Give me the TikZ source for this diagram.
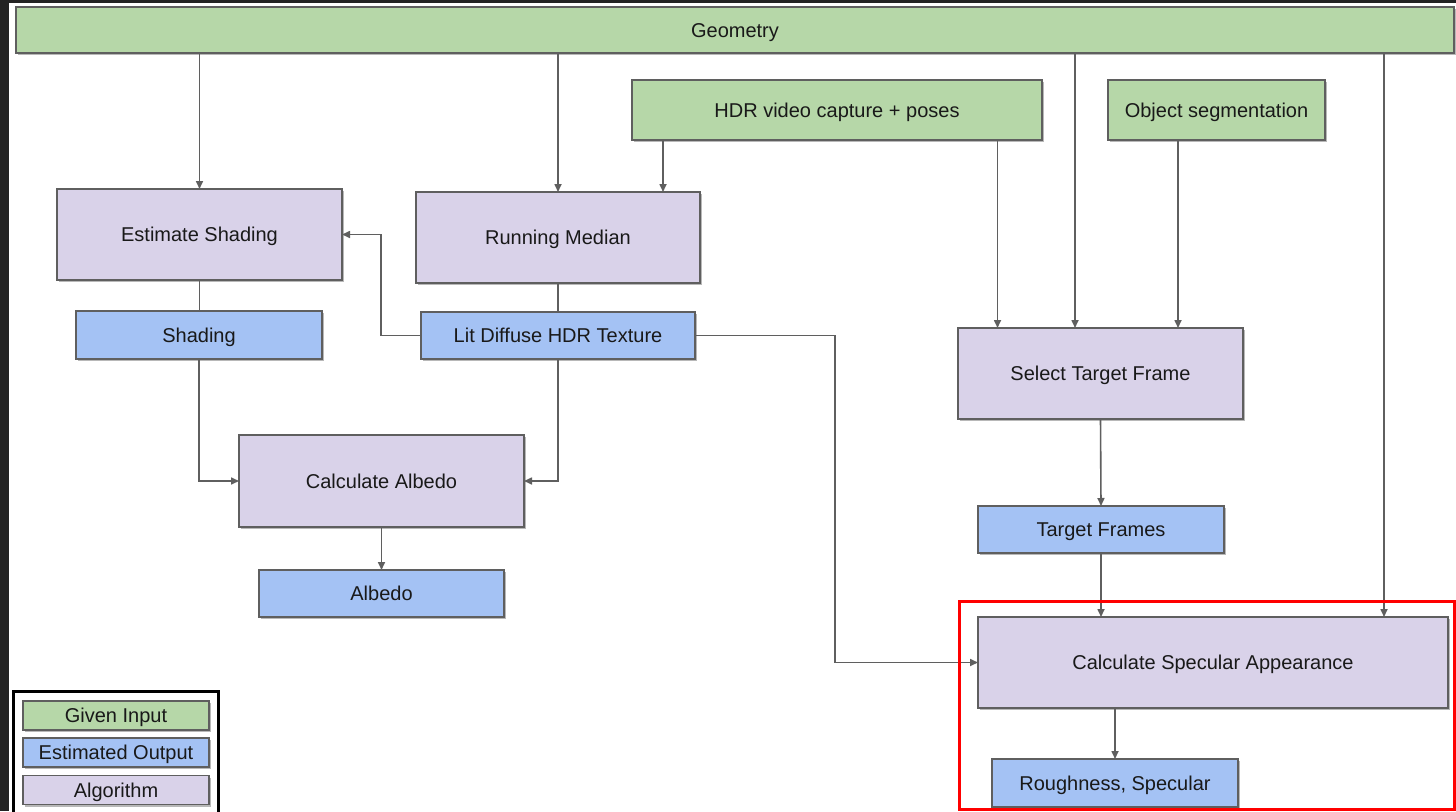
\documentclass[tikz,border=0pt]{standalone}
\usepackage{fontspec}
\setmainfont{Liberation Sans}
\usetikzlibrary{arrows.meta,shadows,calc}
\definecolor{ginput}{HTML}{B6D7A8}
\definecolor{eoutput}{HTML}{A4C2F4}
\definecolor{algo}{HTML}{D9D2E9}
\definecolor{edgegray}{HTML}{5F5F5F}
\definecolor{framedark}{HTML}{232323}
\definecolor{hilite}{HTML}{FF0000}

\begin{document}
\begin{tikzpicture}[x=1pt,y=-1pt,
  box/.style={draw=edgegray, line width=1.6pt, inner sep=0pt, outer sep=0pt,
    font=\fontsize{20}{24}\selectfont, text=black!90,
    text height=14.3pt, text depth=0pt,
    drop shadow={shadow xshift=1.5pt, shadow yshift=-2pt, opacity=0.28, fill=black}},
  given/.style={box, fill=ginput},
  estimated/.style={box, fill=eoutput, minimum width=246pt, minimum height=47pt},
  algorithm/.style={box, fill=algo, minimum width=285pt, minimum height=91pt},
  legendbox/.style={box, minimum width=186pt, minimum height=29pt},
  flow/.style={draw=edgegray, line width=1.6pt, -{Triangle[length=8pt,width=7pt]}},
  link/.style={draw=edgegray, line width=1.6pt}
]
\useasboundingbox (0,0) rectangle (1456,811);
% page background and dark frame edges
\fill[white] (0,0) rectangle (1456,811);
\fill[framedark] (0,0) rectangle (9,811);
\fill[framedark] (0,0) rectangle (1456,2.5);

% given inputs
\node[given, minimum width=1438pt, minimum height=46pt] (geo) at (735,30) {Geometry};
\node[given, minimum width=410pt, minimum height=60pt] (hdr) at (837,110) {HDR video capture + poses};
\node[given, minimum width=217pt, minimum height=60pt] (obj) at (1216.5,110) {Object segmentation};

% algorithms
\node[algorithm] (es) at (199.5,234.5) {Estimate Shading};
\node[algorithm, minimum width=284pt] (rm) at (558,237.5) {Running Median};
\node[algorithm] (sel) at (1100.5,373.5) {Select Target Frame};
\node[algorithm, minimum height=92pt] (ca) at (381.5,481) {Calculate Albedo};
\node[algorithm, minimum width=470pt] (cs) at (1213,662.5) {Calculate Specular Appearance};

% estimated outputs
\node[estimated, minimum height=48pt] (sh) at (199,335) {Shading};
\node[estimated, minimum width=274pt] (lit) at (558,335.5) {Lit Diffuse HDR Texture};
\node[estimated, minimum width=245pt] (alb) at (381.5,593.5) {Albedo};
\node[estimated] (tf) at (1101,529.5) {Target Frames};
\node[estimated, minimum height=48pt] (rs) at (1115,783) {Roughness, Specular};

% entry points on shared boxes
\coordinate (selg) at ($(sel.north)+(-25.5,0)$);
\coordinate (selh) at ($(sel.north)+(-103,0)$);
\coordinate (selo) at ($(sel.north)+(77.5,0)$);
\coordinate (csg) at ($(cs.north)+(171,0)$);
\coordinate (rmh) at ($(rm.north)+(105,0)$);

% connectors
\draw[flow] (geo.south -| es.north) -- (es.north);
\draw[flow] (geo.south -| rm.north) -- (rm.north);
\draw[flow] (geo.south -| selg) -- (selg);
\draw[flow] (geo.south -| csg) -- (csg);
\draw[flow] (hdr.south -| rmh) -- (rmh);
\draw[flow] (hdr.south -| selh) -- (selh);
\draw[flow] (obj.south -| selo) -- (selo);
\draw[link] (rm.south) -- (lit.north);
\draw[link] (es.south) -- (es.south |- sh.north);
\draw[flow] (lit.west) -- ++(-40,0) |- (es.east);
\draw[flow] (sh.south) |- (ca.west);
\draw[flow] (lit.south) |- (ca.east);
\draw[flow] (ca.south) -- (alb.north);
\draw[flow] (lit.east) -- ++(140,0) |- (cs.west);
\draw[flow] (sel.south) -- (tf.north);
\draw[flow] (tf.south) -- (tf.south |- cs.north);
\draw[flow] (rs.north |- cs.south) -- (rs.north);

% highlight around the specular stage
\draw[hilite, line width=3pt] (959,601.5) rectangle (1454.5,809);

% legend
\draw[black, line width=3pt, fill=white] (13,691) rectangle (218,820);
\node[legendbox, fill=ginput] (lg1) at (116,715.5) {Given Input};
\node[legendbox, fill=eoutput] (lg2) at (116,752.5) {Estimated Output};
\node[legendbox, fill=algo] (lg3) at (116,790) {Algorithm};
\end{tikzpicture}
\end{document}
